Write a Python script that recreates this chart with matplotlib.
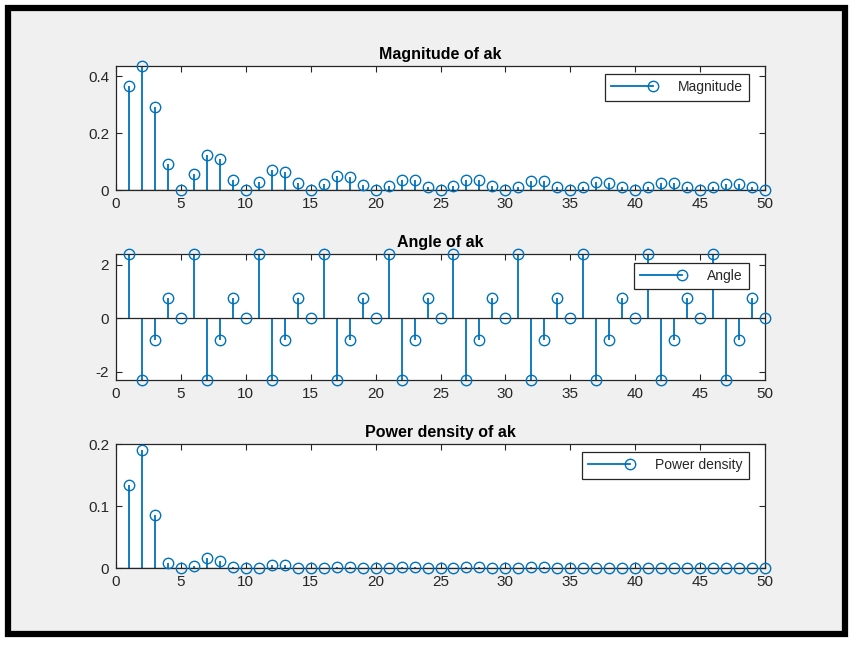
import matplotlib.pyplot as plt
from matplotlib.lines import Line2D
from matplotlib.patches import Rectangle
from matplotlib.legend_handler import HandlerLine2D

k = list(range(1, 51))

magnitude = [0.366, 0.437, 0.291, 0.090, 0.0, 0.058, 0.124, 0.109, 0.036, 0.0,
             0.029, 0.071, 0.064, 0.023, 0.0, 0.021, 0.049, 0.047, 0.018, 0.0,
             0.015, 0.036, 0.034, 0.012, 0.0, 0.014, 0.035, 0.034, 0.014, 0.0,
             0.012, 0.030, 0.030, 0.012, 0.0, 0.011, 0.027, 0.026, 0.011, 0.0,
             0.011, 0.023, 0.023, 0.011, 0.0, 0.010, 0.021, 0.020, 0.009, 0.0]

angle = [2.40, -2.30, -0.80, 0.76, 0.0] * 10

power = [0.134, 0.191, 0.085, 0.0081, 0.0, 0.0034, 0.0154, 0.0119, 0.0013, 0.0,
         0.0008, 0.0050, 0.0041, 0.0005, 0.0, 0.0004, 0.0024, 0.0022, 0.0003, 0.0,
         0.0002, 0.0013, 0.0012, 0.0001, 0.0, 0.0002, 0.0012, 0.0012, 0.0002, 0.0,
         0.0001, 0.0009, 0.0009, 0.0001, 0.0, 0.0001, 0.0007, 0.0007, 0.0001, 0.0,
         0.0001, 0.0005, 0.0005, 0.0001, 0.0, 0.0001, 0.0004, 0.0004, 0.0001, 0.0]

BLUE = '#0072BD'
DARK = '#262626'

plt.rcParams['font.family'] = ['Liberation Sans', 'DejaVu Sans']


class EndMarker(HandlerLine2D):
    # matlab style stem legend: line with the circle at its right end
    def create_artists(self, legend, orig_handle, xdescent, ydescent,
                       width, height, fontsize, trans):
        arts = super().create_artists(legend, orig_handle, xdescent, ydescent,
                                      width, height, fontsize, trans)
        for a in arts:
            a.set_marker('None')
        xd = arts[0].get_xdata()
        yd = arts[0].get_ydata()
        m = Line2D([xd[-1]], [yd[-1]], linestyle='None', marker='o',
                   markersize=7.5, markerfacecolor='none',
                   markeredgecolor=BLUE, markeredgewidth=1.0)
        m.set_transform(trans)
        return list(arts) + [m]


fig = plt.figure(figsize=(8.6, 6.48), dpi=100, facecolor='white')

# screenshot frame: black border with light gray inside
W, H = 860.0, 648.0
fig.patches.append(Rectangle((8 / W, 1 - 634 / H), 837 / W, 626 / H,
                             transform=fig.transFigure, facecolor='#F0F0F0',
                             edgecolor='black', linewidth=4.5, zorder=-1))


def stem_panel(rect, y, title, label, ylim, yticks, yticklabels, legend_y):
    ax = fig.add_axes(rect)
    ax.set_facecolor('white')
    ax.vlines(k, 0, y, colors=BLUE, linewidth=1.3, zorder=2)
    ax.axhline(0, color=DARK, linewidth=0.9, zorder=2)
    ax.plot(k, y, linestyle='None', marker='o', markersize=7.5,
            markerfacecolor='none', markeredgecolor=BLUE,
            markeredgewidth=1.0, clip_on=False, zorder=3)
    ax.set_xlim(0, 50)
    ax.set_ylim(*ylim)
    ax.set_xticks(range(0, 51, 5))
    ax.set_yticks(yticks)
    ax.set_yticklabels(yticklabels)
    ax.tick_params(direction='in', length=4, width=0.8, colors=DARK,
                   labelsize=11, top=True, right=True, pad=5)
    for sp in ax.spines.values():
        sp.set_color(DARK)
        sp.set_linewidth(0.9)
    ax.set_title(title, fontsize=11.5, fontweight='bold', color='black', pad=5)

    proxy = Line2D([0, 1], [0, 0], color=BLUE, linewidth=1.3)
    leg = ax.legend([proxy], [label], loc='upper right',
                    bbox_to_anchor=(0.975, legend_y), borderaxespad=0,
                    handler_map={Line2D: EndMarker()},
                    fontsize=10, handlelength=3.0,
                    handletextpad=1.8, fancybox=False, framealpha=1,
                    borderpad=0.45)
    leg.get_frame().set_edgecolor(DARK)
    leg.get_frame().set_linewidth(0.9)
    for t in leg.get_texts():
        t.set_color(DARK)
    return ax


stem_panel([116 / W, 1 - 190 / H, 649 / W, 124 / H], magnitude,
           'Magnitude of ak', 'Magnitude', (0, 0.437),
           [0, 0.2, 0.4], ['0', '0.2', '0.4'], 0.935)
stem_panel([116 / W, 1 - 380 / H, 649 / W, 126 / H], angle,
           'Angle of ak', 'Angle', (-2.30, 2.40),
           [-2, 0, 2], ['-2', '0', '2'], 0.929)
stem_panel([116 / W, 1 - 568 / H, 649 / W, 124 / H], power,
           'Power density of ak', 'Power density', (0, 0.2),
           [0, 0.1, 0.2], ['0', '0.1', '0.2'], 0.935)

fig.savefig('out.png', dpi=100, facecolor='white')
